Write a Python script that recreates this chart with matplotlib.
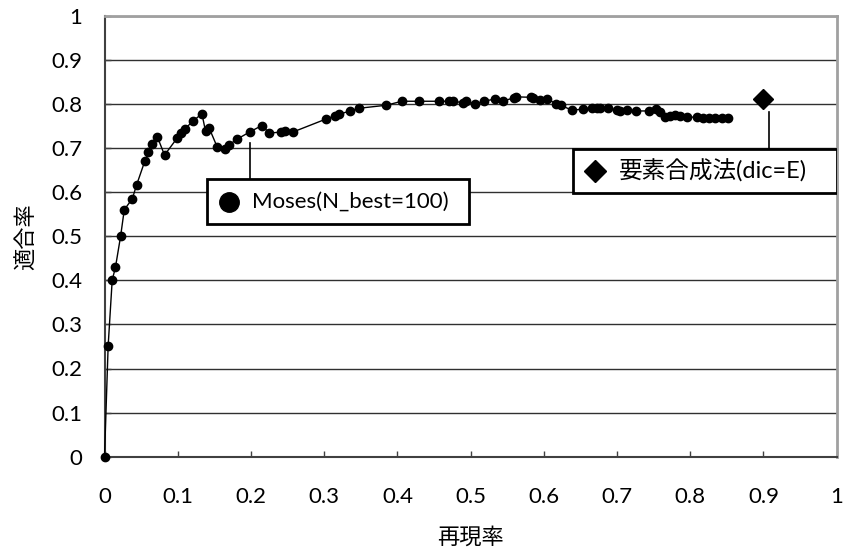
import matplotlib
matplotlib.use('Agg')
import matplotlib.pyplot as plt
from matplotlib.patches import Rectangle

plt.rcParams['font.family'] = ['Lato', 'Noto Sans CJK JP', 'DejaVu Sans']

# Moses (N_best=100): 再現率 / 適合率
recall = [0, 0.005, 0.0105, 0.015, 0.022, 0.027, 0.038, 0.044, 0.055, 0.060,
          0.065, 0.072, 0.082, 0.099, 0.104, 0.110, 0.121, 0.133, 0.138, 0.143,
          0.154, 0.165, 0.170, 0.181, 0.199, 0.215, 0.225, 0.241, 0.247, 0.257,
          0.303, 0.315, 0.320, 0.335, 0.347, 0.385, 0.406, 0.429, 0.457, 0.470,
          0.476, 0.489, 0.494, 0.506, 0.518, 0.533, 0.544, 0.559, 0.562, 0.582,
          0.585, 0.595, 0.605, 0.617, 0.623, 0.638, 0.654, 0.666, 0.672, 0.677,
          0.687, 0.700, 0.704, 0.713, 0.726, 0.743, 0.753, 0.759, 0.766, 0.772,
          0.779, 0.786, 0.795, 0.809, 0.818, 0.825, 0.834, 0.843, 0.852]
precision = [0, 0.252, 0.400, 0.430, 0.500, 0.560, 0.585, 0.617, 0.670, 0.690,
             0.709, 0.726, 0.684, 0.722, 0.735, 0.744, 0.761, 0.778, 0.738, 0.745,
             0.702, 0.698, 0.707, 0.720, 0.737, 0.751, 0.734, 0.736, 0.739, 0.736,
             0.766, 0.773, 0.776, 0.784, 0.790, 0.797, 0.806, 0.806, 0.806, 0.806,
             0.806, 0.803, 0.806, 0.800, 0.806, 0.811, 0.806, 0.814, 0.816, 0.815,
             0.813, 0.808, 0.811, 0.800, 0.797, 0.786, 0.788, 0.790, 0.790, 0.790,
             0.790, 0.786, 0.785, 0.786, 0.784, 0.784, 0.788, 0.782, 0.770, 0.773,
             0.775, 0.772, 0.770, 0.770, 0.769, 0.768, 0.769, 0.768, 0.769]

# 要素合成法 (dic=E)
elem_recall = [0.90]
elem_precision = [0.81]

moses_label = 'Moses(N_best=100)'
elem_label = '要素合成法(dic=E)'

fig = plt.figure(figsize=(8.43, 5.57), dpi=100)
ax = fig.add_axes([104.5 / 843, 1 - 456.7 / 557, 732.2 / 843, 441 / 557])

ax.plot(recall, precision, color='black', linewidth=1.0, marker='o',
        markersize=6, zorder=4, clip_on=False)
ax.plot(elem_recall, elem_precision, linestyle='none', color='black',
        marker='D', markersize=10, zorder=4)

ax.set_xlim(0, 1)
ax.set_ylim(0, 1)
ticks = [i / 10 for i in range(11)]
ax.set_xticks(ticks)
ax.set_yticks(ticks)
ax.set_xticklabels(['0'] + [f'{t:.1f}' for t in ticks[1:-1]] + ['1'])
ax.set_yticklabels(['0'] + [f'{t:.1f}' for t in ticks[1:-1]] + ['1'])
ax.tick_params(axis='x', direction='in', length=4, width=1, pad=22,
               labelsize=16, color='#404040')
ax.tick_params(axis='y', direction='in', length=4, width=1, pad=16,
               labelsize=16, color='#404040')

ax.grid(axis='y', color='#303030', linewidth=1.0)
ax.set_axisbelow(True)
for side in ('left', 'bottom'):
    ax.spines[side].set_color('#404040')
    ax.spines[side].set_linewidth(1.5)
for side in ('top', 'right'):
    ax.spines[side].set_color('#a0a0a0')
    ax.spines[side].set_linewidth(2.0)

ax.set_xlabel('再現率', fontsize=16, labelpad=14)
ax.set_ylabel('適合率', fontsize=16, labelpad=10)


def label_box(ax, left, bottom, width, height, marker, msize, text, fsize,
              anchor, gap):
    """枠付きラベルと引き出し線"""
    box = Rectangle((left, bottom), width, height, facecolor='white',
                    edgecolor='black', linewidth=2, zorder=5)
    ax.add_patch(box)
    cy = bottom + height / 2
    ax.plot([left + 0.030], [cy], marker=marker, color='black',
            markersize=msize, zorder=6)
    ax.text(left + 0.062, cy, text, fontsize=fsize, va='center', ha='left',
            zorder=6)
    ax.plot([anchor[0], anchor[0]], [bottom + height, anchor[1] - gap],
            color='black', linewidth=1.2, zorder=3)


label_box(ax, 0.1395, 0.528, 0.3585, 0.101, 'o', 14, moses_label, 16,
          (recall[24], precision[24]), 0.025)
label_box(ax, 0.640, 0.597, 0.3605, 0.100, 'D', 11, elem_label, 17,
          (elem_recall[0] + 0.008, elem_precision[0]), 0.029)

fig.savefig('out.png', dpi=100)
